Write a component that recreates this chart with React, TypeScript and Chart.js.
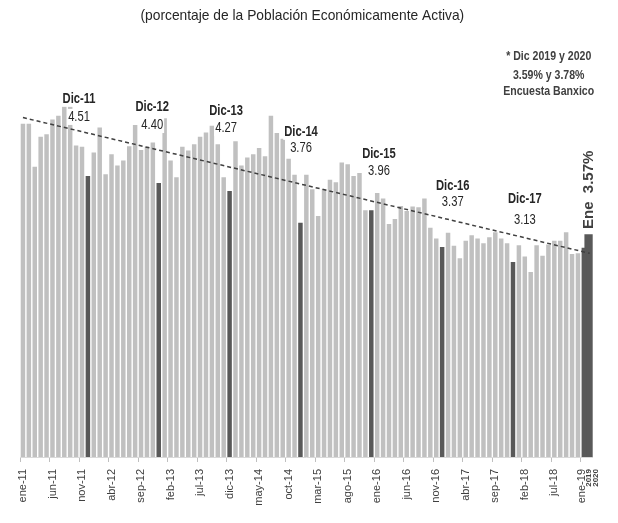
import React, { useEffect, useRef } from "react";
import { Chart, registerables } from "chart.js";

Chart.register(...registerables);

// ---- data ----
const MONTHS = ["ene", "feb", "mar", "abr", "may", "jun", "jul", "ago", "sep", "oct", "nov", "dic"];
const YEARS = ["11", "12", "13", "14", "15", "16", "17", "18"];
const LAST_LABEL = "ene-19";
const LAST_SUBLABELS = ["2019", "2020"];

const Y2011 = [5.35, 5.35, 4.66, 5.14, 5.18, 5.42, 5.48, 5.70, 5.66, 5.00, 4.98, 4.51];
const Y2012 = [4.89, 5.29, 4.54, 4.86, 4.68, 4.76, 4.99, 5.33, 4.93, 4.98, 5.05, 4.40];
const Y2013 = [5.44, 4.76, 4.49, 4.98, 4.92, 5.02, 5.14, 5.21, 5.32, 5.02, 4.49, 4.27];
const Y2014 = [5.07, 4.68, 4.81, 4.86, 4.96, 4.83, 5.48, 5.20, 5.11, 4.79, 4.53, 3.76];
const Y2015 = [4.53, 4.30, 3.87, 4.30, 4.45, 4.41, 4.73, 4.70, 4.51, 4.56, 3.96, 3.96];
const Y2016 = [4.24, 4.15, 3.74, 3.82, 4.03, 3.95, 4.02, 4.01, 4.15, 3.68, 3.51, 3.37];
const Y2017 = [3.60, 3.39, 3.19, 3.47, 3.56, 3.51, 3.43, 3.53, 3.61, 3.51, 3.43, 3.13];
const Y2018 = [3.40, 3.22, 2.97, 3.40, 3.23, 3.41, 3.47, 3.47, 3.61, 3.26, 3.27, 3.36];
const ENE_2019 = 3.57;

const TREND_START = 5.45;
const TREND_END = 3.27;

const DEC_TITLES = ["Dic-11", "Dic-12", "Dic-13", "Dic-14", "Dic-15", "Dic-16", "Dic-17"];
const TITLE_TEXT = "(porcentaje de la Población Económicamente Activa)";
const NOTE_LINES = ["* Dic 2019 y 2020", "3.59% y 3.78%", "Encuesta Banxico"];

// ---- label layout (category units / value units) ----
const DEC_NOTE_AT = [9.5, 21.9, 34.4, 47.1, 60.3, 72.8, 85.0];
const DEC_TITLE_Y = [5.75, 5.61, 5.56, 5.22, 4.86, 4.35, 4.14];
const DEC_VALUE_Y = [5.46, 5.33, 5.28, 4.96, 4.59, 4.09, 3.80];
const NOTE_Y = [6.42, 6.13, 5.86];

const CATEGORIES: string[] = [];
YEARS.forEach((y) => MONTHS.forEach((m) => CATEGORIES.push(`${m}-${y}`)));
CATEGORIES.push(LAST_LABEL);

const VALUES = [...Y2011, ...Y2012, ...Y2013, ...Y2014, ...Y2015, ...Y2016, ...Y2017, ...Y2018, ENE_2019];

const SANS = "'Liberation Sans', Arial, sans-serif";
const LIGHT = "#c0c0c0";
const DARK = "#595959";
const TEXT = "#262626";

function narrowText(
  ctx: CanvasRenderingContext2D,
  text: string,
  x: number,
  y: number,
  font: string,
  color: string,
  box: boolean,
  squeeze: number
) {
  ctx.save();
  ctx.font = font;
  const w = ctx.measureText(text).width * squeeze;
  if (box) {
    ctx.fillStyle = "#ffffff";
    ctx.fillRect(x - w / 2 - 1, y - 8, w + 2, 16);
  }
  ctx.translate(x, y);
  ctx.scale(squeeze, 1);
  ctx.fillStyle = color;
  ctx.textAlign = "center";
  ctx.textBaseline = "middle";
  ctx.fillText(text, 0, 0);
  ctx.restore();
}

const textPlugin = {
  id: "textPlugin",
  afterDatasetsDraw(chart: any) {
    const { ctx, scales, chartArea } = chart;
    const x = scales.x;
    const y = scales.y;
    const c0 = x.getPixelForValue(0);
    const step = x.getPixelForValue(1) - c0;
    const px = (i: number) => c0 + i * step;
    ctx.save();
    // December notes
    DEC_TITLES.forEach((t, k) => {
      const idx = 11 + 12 * k;
      const cx = px(DEC_NOTE_AT[k]);
      narrowText(ctx, t, cx, y.getPixelForValue(DEC_TITLE_Y[k]), `bold 14px ${SANS}`, TEXT, true, 0.8);
      narrowText(ctx, VALUES[idx].toFixed(2), cx, y.getPixelForValue(DEC_VALUE_Y[k]), `14px ${SANS}`, TEXT, true, 0.8);
    });
    // last bar vertical label
    const lastIdx = VALUES.length - 1;
    ctx.save();
    ctx.translate(px(lastIdx) - 1, y.getPixelForValue(4.29));
    ctx.rotate(-Math.PI / 2);
    ctx.font = `bold 15px ${SANS}`;
    ctx.fillStyle = "#404040";
    ctx.textAlign = "center";
    ctx.textBaseline = "middle";
    ctx.fillText(`Ene  ${VALUES[lastIdx].toFixed(2)}%`, 0, 0);
    ctx.restore();
    // title
    narrowText(
      ctx,
      TITLE_TEXT,
      (chartArea.left + chartArea.right) / 2 - 4,
      chartArea.top - 5,
      `15px ${SANS}`,
      TEXT,
      false,
      0.92
    );
    // note top right
    NOTE_LINES.forEach((l, i) => {
      narrowText(ctx, l, chartArea.right - 44, y.getPixelForValue(NOTE_Y[i]), `bold 12px ${SANS}`, "#404040", false, 0.88);
    });
    // last tick label (multi-line, rotated)
    const ty = chartArea.bottom + 12;
    const lx = px(lastIdx);
    ctx.save();
    ctx.translate(lx - 8, ty);
    ctx.rotate(-Math.PI / 2);
    ctx.font = `11px ${SANS}`;
    ctx.fillStyle = "#404040";
    ctx.textAlign = "right";
    ctx.textBaseline = "middle";
    ctx.fillText(LAST_LABEL, 0, 0);
    ctx.font = `bold 8px ${SANS}`;
    LAST_SUBLABELS.forEach((s, i) => ctx.fillText(s, 0, 7 * (i + 1)));
    ctx.restore();
    ctx.restore();
  },
};

export default function App() {
  const ref = useRef<HTMLCanvasElement>(null);
  useEffect(() => {
    if (!ref.current) return;
    const lastIdx = VALUES.length - 1;
    const mainData = VALUES.map((v, i) => (i === lastIdx ? null : v));
    const lastData = VALUES.map((v, i) => (i === lastIdx ? v : null));
    const trend = VALUES.map((_, i) => (i === 0 ? TREND_START : i === lastIdx ? TREND_END : null));
    const chart = new Chart(ref.current, {
      type: "bar",
      data: {
        labels: CATEGORIES,
        datasets: [
          {
            type: "line",
            data: trend as any,
            borderColor: "#404040",
            borderWidth: 1.5,
            borderDash: [4, 3],
            pointRadius: 0,
            spanGaps: true,
            order: 0,
          } as any,
          {
            data: mainData as any,
            backgroundColor: VALUES.map((_, i) => (i % 12 === 11 ? DARK : LIGHT)),
            barPercentage: 0.76,
            categoryPercentage: 1,
            grouped: false,
            order: 1,
          } as any,
          {
            data: lastData as any,
            backgroundColor: DARK,
            barThickness: 10,
            grouped: false,
            order: 2,
          } as any,
        ],
      },
      options: {
        responsive: false,
        animation: false,
        layout: { padding: { left: 12, right: 11, top: 13, bottom: 0 } },
        plugins: { legend: { display: false }, tooltip: { enabled: false } },
        scales: {
          x: {
            afterFit: (s: any) => {
              s.height = 66;
            },
            border: { display: true, color: "#d9d9d9" },
            grid: {
              drawOnChartArea: false,
              drawTicks: true,
              tickLength: 5,
              color: (c: any) => (c.index % 5 === 0 && c.index <= 95 ? "#bfbfbf" : "rgba(0,0,0,0)"),
            },
            ticks: {
              autoSkip: false,
              maxRotation: 90,
              minRotation: 90,
              padding: 7,
              color: "#404040",
              font: { size: 11, family: SANS },
              callback: (_v: any, i: number) => (i % 5 === 0 && i < 95 ? CATEGORIES[i] : ""),
            },
          },
          y: { display: false, min: 0, max: 7 },
        },
      },
      plugins: [textPlugin],
    });
    return () => chart.destroy();
  }, []);
  return <canvas ref={ref} width={602} height={515} />;
}
